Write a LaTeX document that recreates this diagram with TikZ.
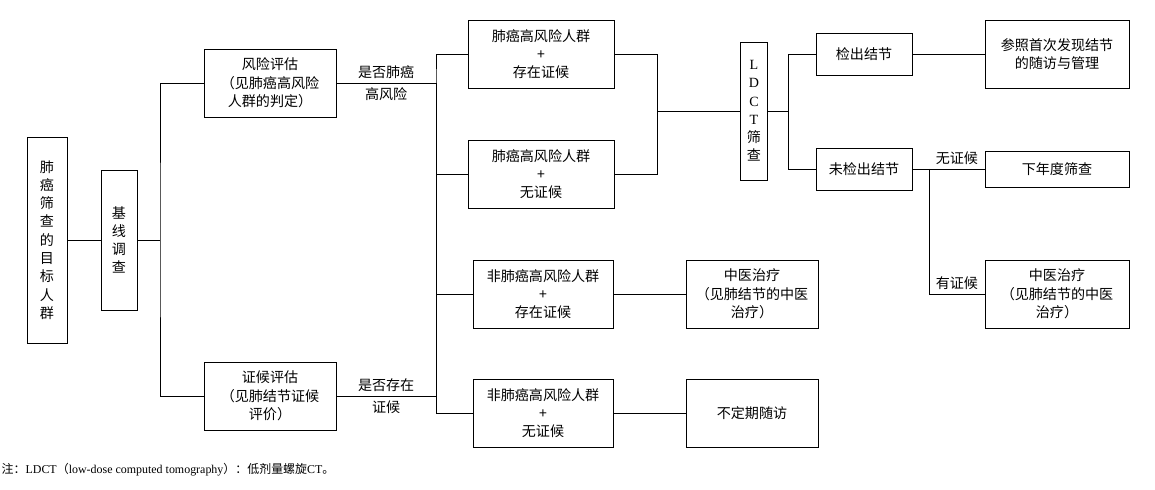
\documentclass[tikz,border=0pt]{standalone}
\usepackage{fontspec}
\setmainfont{Liberation Serif}
\newfontfamily\cjk{Noto Sans CJK SC}
\usetikzlibrary{positioning}
\begin{document}
\begin{tikzpicture}[
  x=0.025cm, y=-0.025cm,
  every node/.style={font=\cjk\fontsize{10}{13}\selectfont, inner sep=1pt},
  box/.style={rectangle, draw, align=center, minimum height=1.7cm},
  vbox/.style={rectangle, draw, align=center, text width=0.45cm, inner sep=0pt},
  sbox/.style={rectangle, draw, align=center, minimum width=2.4cm, minimum height=1.05cm},
  link/.style={draw, thin}
]
\useasboundingbox (0,0) rectangle (1155,490);

% left column
\node[vbox, minimum height=5.15cm, minimum width=1cm] (target) at (47,240) {肺\\癌\\筛\\查\\的\\目\\标\\人\\群};
\node[vbox, minimum height=3.5cm, minimum width=0.9cm] (base) at (119,240) {基\\线\\调\\查};

% assessment
\node[box, minimum width=3.3cm] (risk) at (270,83) {风险评估\\（见肺癌高风险\\人群的判定）};
\node[box, minimum width=3.3cm] (syn) at (270,396) {证候评估\\（见肺结节证候\\评价）};

% groups
\node[box, minimum width=3.65cm] (hiyes) at (541,54) {肺癌高风险人群\\+\\存在证候};
\node[box, minimum width=3.65cm] (hino) at (541,174) {肺癌高风险人群\\+\\无证候};
\node[box, minimum width=3.5cm] (loyes) at (543,294) {非肺癌高风险人群\\+\\存在证候};
\node[box, minimum width=3.5cm] (lono) at (543,413) {非肺癌高风险人群\\+\\无证候};
\node[box, minimum width=3.3cm] (tcm) at (752,294) {中医治疗\\（见肺结节的中医\\治疗）};
\node[box, minimum width=3.3cm] (follow) at (752,413) {不定期随访};

% LDCT branch
\node[vbox, minimum height=3.45cm, minimum width=0.68cm] (ldct) at (754,111) {{\rmfamily L}\\{\rmfamily D}\\{\rmfamily C}\\{\rmfamily T}\\{\cjk 筛}\\{\cjk 查}};
\node[sbox] (found) at (864,54) {检出结节};
\node[sbox] (nofound) at (864,169) {未检出结节};
\node[box, minimum width=3.6cm] (refer) at (1057,54) {参照首次发现结节\\的随访与管理};
\node[sbox, minimum width=3.6cm, minimum height=0.9cm] (next) at (1057,169) {下年度筛查};
\node[box, minimum width=3.6cm] (tcmr) at (1057,294) {中医治疗\\（见肺结节的中医\\治疗）};

% junctions
\coordinate (jb) at (160,240);
\coordinate (jq) at (436,83);
\coordinate (js) at (436,396);
\coordinate (jh) at (657,111);
\coordinate (jl) at (788,111);
\coordinate (jn) at (929,169);

% connectors
\draw[link] (target) -- (base);
\draw[link] (base) -- (jb);
\draw[link] (risk.west) -| (jb) |- (syn.west);
\draw[link] (risk) -- node[above=2pt]{是否肺癌} node[below=2pt]{高风险} (jq);
\draw[link] (syn) -- node[above=2pt]{是否存在} node[below=2pt]{证候} (js);
\draw[link] (hiyes.west) -| (jq) |- (hino.west);
\draw[link] (jq) |- (loyes.west);
\draw[link] (jq) |- (lono.west);
\draw[link] (loyes) -- (tcm);
\draw[link] (lono) -- (follow);
\draw[link] (hiyes.east) -| (jh) |- (hino.east);
\draw[link] (jh) -- (ldct);
\draw[link] (ldct) -- (jl);
\draw[link] (found.west) -| (jl) |- (nofound.west);
\draw[link] (found) -- (refer);
\draw[link] (nofound) -- (jn);
\draw[link] (jn) -- node[above=2pt]{无证候} (next);
\draw[link] (jn) |- node[pos=0.75, above=2pt]{有证候} (tcmr.west);

% note
\node[anchor=west, font=\cjk\fontsize{8.5}{10}\selectfont] (note) at (0,470) {注：\rmfamily LDCT\cjk（\rmfamily low-dose computed tomography\cjk）：低剂量螺旋\rmfamily CT\cjk。};
\end{tikzpicture}
\end{document}
